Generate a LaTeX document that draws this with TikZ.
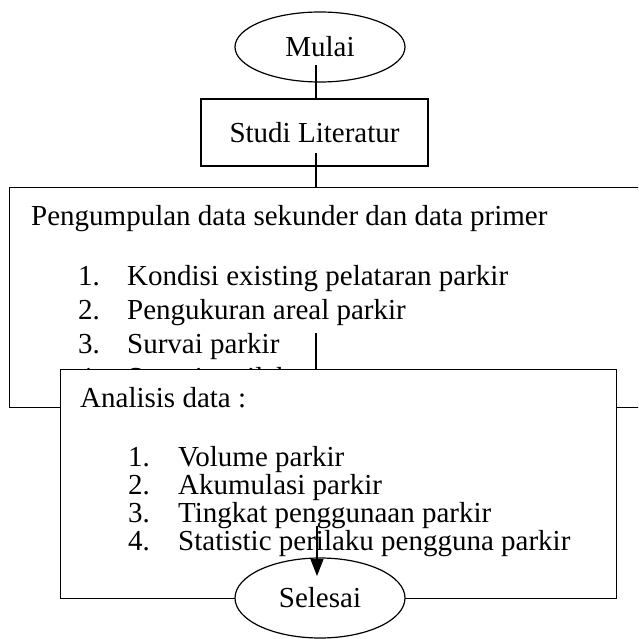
\documentclass[tikz,border=0pt]{standalone}
\usepackage{fontspec}
\setmainfont{Liberation Serif}
\usetikzlibrary{arrows.meta,shapes}
\tikzstyle{terminal}=[ellipse,draw,fill=white,line width=1.2pt,minimum width=170pt,minimum height=70pt,inner sep=0pt]
\tikzstyle{process}=[rectangle,draw,fill=white,line width=1.2pt,inner sep=0pt]
\tikzstyle{line} = [draw,line width=1.2pt]
\tikzstyle{item} = [anchor=base west,inner sep=0pt]

\begin{document}
\begin{tikzpicture}[x=1pt,y=-1pt,font=\fontsize{29}{33}\selectfont]
    \useasboundingbox (0,0) rectangle (638,639);
    \clip (0,0) rectangle (638,639);

    % Start and first step
    \node[terminal] (mulai) at (320,47) {Mulai};
    \node[process,minimum width=227pt,minimum height=67pt] (studi) at (314.5,132.5) {Studi Literatur};

    % Data collection box, runs off the right side
    \node[process,anchor=north west,minimum width=660pt,minimum height=220pt] (kumpul) at (9,187) {};
    \node[item] (kumpulhead) at (31,225) {Pengumpulan data sekunder dan data primer};
    \foreach \y/\n/\txt in {285/1/Kondisi existing pelataran parkir, 319/2/Pengukuran areal parkir, 353/3/Survai parkir, 387/4/Survai perilaku}
    {
        \node[item] (kumpulnum\n) at (78,\y) {\n.};
        \node[item] (kumpultxt\n) at (127,\y) {\txt};
    }

    % Analysis box lies over the bottom of the first one
    \node[process,anchor=north west,minimum width=556pt,minimum height=229pt] (analisis) at (60,369) {};
    \node[item] (analisishead) at (80,407) {Analisis data :};
    \foreach \y/\n/\txt in {466/1/Volume parkir, 494/2/Akumulasi parkir, 522/3/Tingkat penggunaan parkir, 550/4/Statistic perilaku pengguna parkir}
    {
        \node[item] (analisisnum\n) at (128,\y) {\n.};
        \node[item] (analisistxt\n) at (178,\y) {\txt};
    }

    % Connect the steps
    \coordinate (mulaiout) at (316,65);
    \coordinate (studiout) at (316,153);
    \coordinate (kumpulout) at (316,333);
    \path[line] (mulaiout) -- (studi.north -| mulaiout);
    \path[line] (studiout) -- (kumpul.north -| studiout);
    \path[line] (kumpulout) -- (analisis.north -| kumpulout);

    % End, the arrow runs into it
    \node[terminal,minimum height=80pt] (selesai) at (320,598) {Selesai};
    \coordinate (analisisout) at (317,526);
    \coordinate (selesaiin) at (317,576);
    \draw[line,-{Triangle[length=17pt,width=13pt]}] (analisisout) -- (selesaiin);
\end{tikzpicture}
\end{document}
